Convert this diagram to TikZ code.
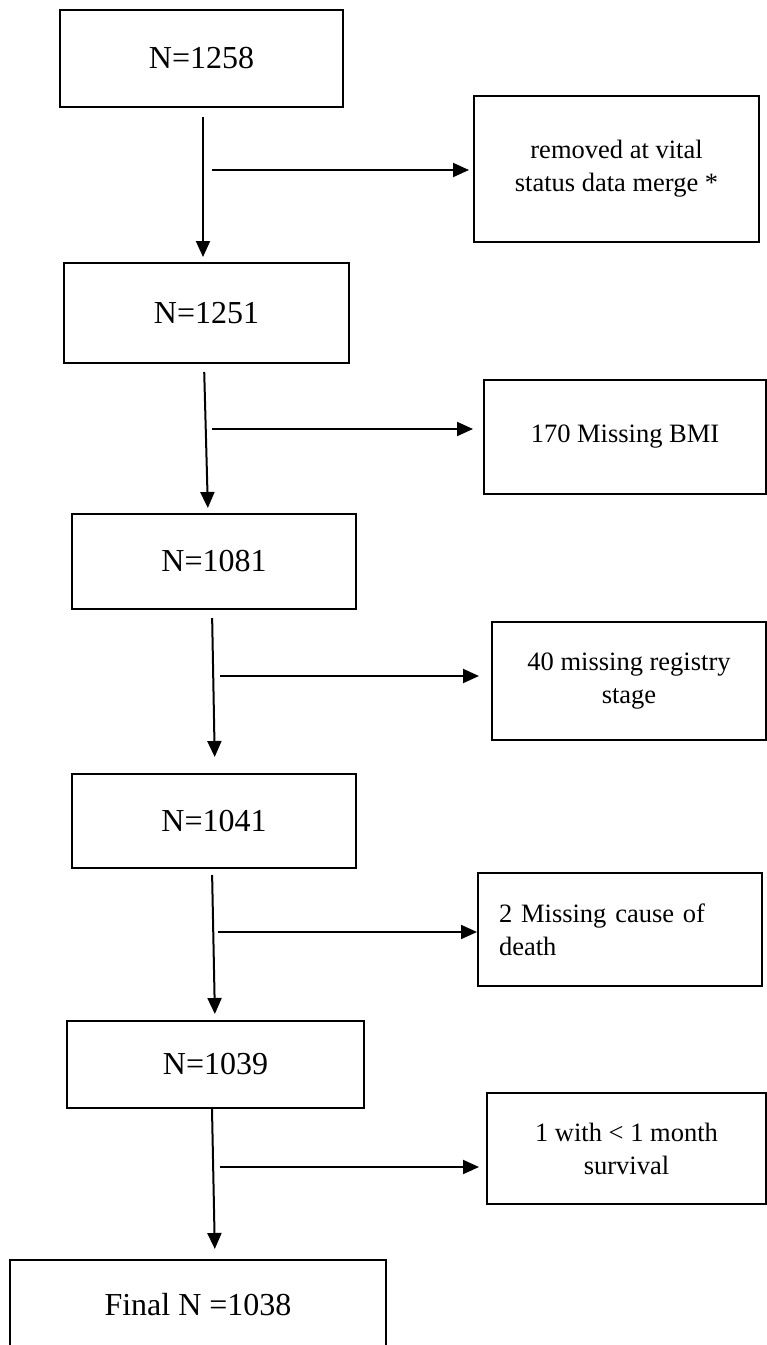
\documentclass[tikz,border=0pt]{standalone}
\usepackage{fontspec}
\setmainfont{Liberation Serif}
\usetikzlibrary{arrows.meta}

\begin{document}
\begin{tikzpicture}[x=1pt, y=-1pt,
    stage/.style={draw, line width=2pt, inner sep=0pt, font=\fontsize{32}{38}\selectfont},
    drop/.style={draw, line width=2pt, inner sep=0pt, align=center, font=\fontsize{26.5}{33}\selectfont},
    flow/.style={line width=2pt, -{Triangle[length=16pt, width=14pt]}}]
    \useasboundingbox (0,0) rectangle (767,1345);

    \node[stage, minimum width=283pt, minimum height=97pt] (n1258) at (201.5, 58.5) {N=1258};
    \node[stage, minimum width=285pt, minimum height=100pt] (n1251) at (206.5, 313) {N=1251};
    \node[stage, minimum width=284pt, minimum height=95pt] (n1081) at (214, 561.5) {N=1081};
    \node[stage, minimum width=284pt, minimum height=94pt] (n1041) at (214, 821) {N=1041};
    \node[stage, minimum width=297pt, minimum height=87pt] (n1039) at (215.5, 1064.5) {N=1039};
    \node[stage, minimum width=376pt, minimum height=90pt] (final) at (198, 1305) {Final N =1038};

    \node[drop, minimum width=285pt, minimum height=146pt] (vital) at (616.5, 169) {removed at vital\\status data merge *};
    \node[drop, minimum width=282pt, minimum height=114pt] (bmi) at (625, 437) {170 Missing BMI};
    \node[drop, minimum width=274pt, minimum height=118pt] (regstage) at (629, 681) {40 missing registry\\stage};
    \node[drop, minimum height=113pt, text width=242pt, inner xsep=21pt, align=left] (cause) at (620, 929.5) {2 Missing cause of\\death};
    \node[drop, minimum width=279pt, minimum height=111pt] (surv) at (626.5, 1148.5) {1 with < 1 month\\survival};

    \draw[flow, shorten <=9pt, shorten >=5pt] ([xshift=1.5pt]n1258.south) -- ([xshift=-3.5pt]n1251.north);
    \draw[flow, shorten <=8pt, shorten >=5pt] ([xshift=-2.5pt]n1251.south) -- ([xshift=-6pt]n1081.north);
    \draw[flow, shorten <=8pt, shorten >=16pt] ([xshift=-2pt]n1081.south) -- ([xshift=1pt]n1041.north);
    \draw[flow, shorten <=6pt, shorten >=6pt] ([xshift=-2pt]n1041.south) -- ([xshift=-0.5pt]n1039.north);
    \draw[flow, shorten >=10pt] ([xshift=-3.5pt]n1039.south) -- ([xshift=17pt]final.north);

    \coordinate (j1) at (212, 170);
    \coordinate (j2) at (212, 429);
    \coordinate (j3) at (220, 676);
    \coordinate (j4) at (218, 932);
    \coordinate (j5) at (220, 1167);
    \draw[flow, shorten >=4pt] (j1) -- (j1 -| vital.west);
    \draw[flow, shorten >=10pt] (j2) -- (j2 -| bmi.west);
    \draw[flow, shorten >=12pt] (j3) -- (j3 -| regstage.west);
    \draw[flow] (j4) -- (j4 -| cause.west);
    \draw[flow, shorten >=7pt] (j5) -- (j5 -| surv.west);
\end{tikzpicture}
\end{document}
